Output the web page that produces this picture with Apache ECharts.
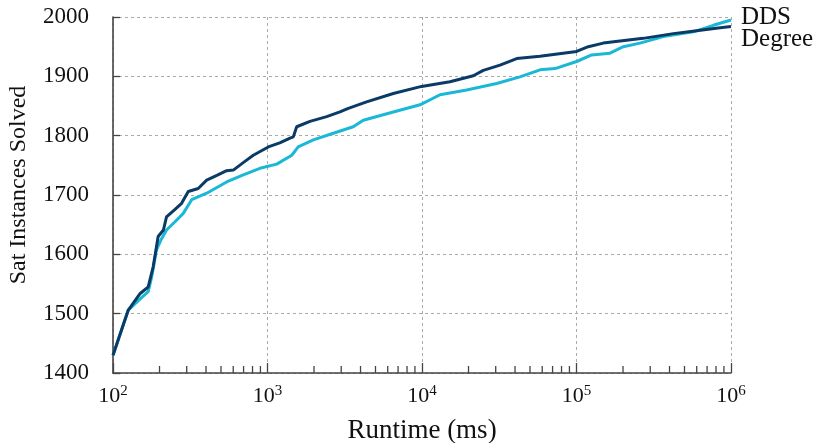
<!DOCTYPE html>
<html>
<head>
<meta charset="utf-8">
<script src="https://cdn.jsdelivr.net/npm/echarts@6/dist/echarts.min.js"></script>
<style>html,body{margin:0;padding:0;background:#fff}#c{width:821px;height:443px}</style>
</head>
<body>
<div id="c"></div>
<script>
// Runtime (ms) and cumulative solved counts
const degreeX = [100,110,125.6,150,169,182,196,212,222,250,278,307,356,404,470,544,601,700,809,1012,1200,1399,1469,1545,1884,2415,2944,3334,4380,6518,9940,15170,21480,24930,31990,41020,58070,100200,119200,149000,270400,423600,600000,800000,1000000];
const degreeY = [1430,1462,1506,1534,1545,1579,1630,1641,1663,1675,1686,1706,1711,1725,1733,1741,1742,1755,1767,1781,1788,1796,1798,1815,1824,1832,1840,1846,1857,1871,1883,1891,1901,1910,1919,1930,1934,1942,1950,1956,1964,1972,1977,1981,1984];
const ddsX = [100,125.6,150,169,178,191,205,222,252,285,323,404,544,697,893,1148,1436,1580,1980,2668,3589,4169,6518,9707,13090,19450,30410,43050,58070,72610,100200,125400,164800,201000,257600,364800,570600,769000,1000000];
const ddsY = [1430,1506,1525,1537,1562,1607,1625,1641,1655,1669,1692,1703,1722,1734,1745,1752,1767,1781,1793,1804,1815,1826,1840,1852,1869,1877,1888,1899,1911,1913,1925,1936,1939,1950,1956,1967,1975,1986,1995];
const seriesNames = ['DDS', 'Degree'];
const yTicks = [1400, 1500, 1600, 1700, 1800, 1900, 2000];
const xExponents = [2, 3, 4, 5, 6];
const xMinorTicks = [200,300,400,500,600,700,800,900,2000,3000,4000,5000,6000,7000,8000,9000,20000,30000,40000,50000,60000,70000,80000,90000,200000,300000,400000,500000,600000,700000,800000,900000];

const zip = (xs, ys) => xs.map((x, i) => [x, ys[i]]);
const FONT = '"Liberation Serif", "Times New Roman", serif';
const AX = '#444';

const chart = echarts.init(document.getElementById('c'));
chart.setOption({
  animation: false,
  backgroundColor: '#fff',
  grid: { left: 113, right: 90, top: 17, bottom: 70, containLabel: false, outerBoundsMode: 'none' },
  xAxis: {
    type: 'log', logBase: 10, min: 100, max: 1000000,
    name: 'Runtime (ms)', nameLocation: 'middle', nameGap: 44,
    nameTextStyle: { fontFamily: FONT, fontSize: 27, color: '#111' },
    axisLine: { show: true, lineStyle: { color: AX, width: 1.6 } },
    axisTick: { show: true, inside: true, length: 10, lineStyle: { color: AX, width: 1.3 } },
    minorTick: { show: false },
    splitLine: { show: true, lineStyle: { color: '#aaa', type: [3, 3], width: 1 } },
    axisLabel: {
      margin: 11,
      formatter: v => {
        const e = Math.round(Math.log10(v));
        return xExponents.includes(e) ? '{b|10}{s|' + e + '}' : '';
      },
      rich: {
        b: { fontFamily: FONT, fontSize: 22, color: '#111' },
        s: { fontFamily: FONT, fontSize: 15, color: '#111', verticalAlign: 'top', padding: [0, 0, 10, 0] }
      }
    }
  },
  yAxis: {
    type: 'value', min: yTicks[0], max: yTicks[yTicks.length - 1], interval: 100,
    name: 'Sat Instances Solved', nameLocation: 'middle', nameGap: 82,
    nameTextStyle: { fontFamily: FONT, fontSize: 24, color: '#111', padding: [0, 0, 0, 20] },
    axisLine: { show: true, lineStyle: { color: AX, width: 1.6 } },
    axisTick: { show: true, inside: true, length: 7, lineStyle: { color: AX, width: 1.3 } },
    splitLine: { show: true, lineStyle: { color: '#aaa', type: [3, 3], width: 1 } },
    axisLabel: { margin: 24, fontFamily: FONT, fontSize: 23, color: '#111', formatter: v => String(v) }
  },
  series: [
    {
      name: 'minorTicks', type: 'custom', clip: false, z: 5,
      encode: { x: 0, y: 1 },
      data: xMinorTicks.map(v => [v, yTicks[0]]),
      renderItem: (params, api) => {
        const p = api.coord([api.value(0), api.value(1)]);
        return {
          type: 'line',
          shape: { x1: p[0], y1: p[1], x2: p[0], y2: p[1] - 7 },
          style: { stroke: AX, lineWidth: 1.3 }
        };
      }
    },
    {
      name: seriesNames[0], type: 'line', data: zip(ddsX, ddsY), showSymbol: false, z: 2,
      lineStyle: { color: '#1ab8d6', width: 3 }, itemStyle: { color: '#1ab8d6' },
      endLabel: { show: true, formatter: seriesNames[0], fontFamily: FONT, fontSize: 25, color: '#111', distance: 10, offset: [0, -3] }
    },
    {
      name: seriesNames[1], type: 'line', data: zip(degreeX, degreeY), showSymbol: false, z: 3,
      lineStyle: { color: '#0a3a66', width: 3 }, itemStyle: { color: '#0a3a66' },
      endLabel: { show: true, formatter: seriesNames[1], fontFamily: FONT, fontSize: 25, color: '#111', distance: 10, offset: [0, 13] }
    }
  ]
});
</script>
</body>
</html>
